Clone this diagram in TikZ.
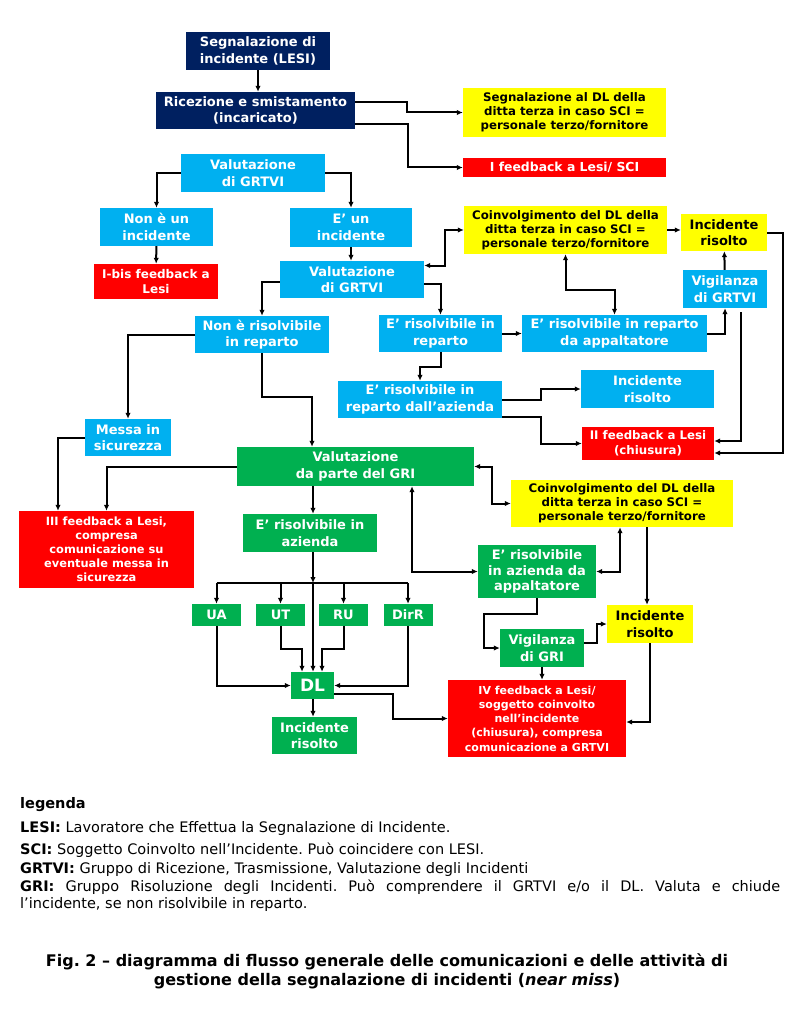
\documentclass[tikz,border=0pt]{standalone}
\usepackage{fontspec}
\setmainfont{DejaVu Sans}
\usepackage{tikz}
\usetikzlibrary{arrows.meta}
\definecolor{navyblue}{RGB}{0,32,96}
\definecolor{skyblue}{RGB}{0,176,240}
\definecolor{leafgreen}{RGB}{0,176,80}
\definecolor{alertred}{RGB}{255,0,0}
\definecolor{notice}{RGB}{255,255,0}
\newcommand{\blockfont}{\bfseries\fontsize{13}{16.5}\selectfont}
\newcommand{\smallblockfont}{\bfseries\fontsize{11.8}{14.2}\selectfont}
\newcommand{\legendfont}{\fontsize{14.5}{17}\selectfont}
\frenchspacing
\tikzset{
  block/.style={rectangle, inner sep=0pt, align=center, font=\blockfont, text=white},
  dims/.style 2 args={minimum width=#1pt, minimum height=#2pt},
  navyblock/.style={block, fill=navyblue},
  cyanblock/.style={block, fill=skyblue},
  greenblock/.style={block, fill=leafgreen},
  redblock/.style={block, fill=alertred, font=\smallblockfont},
  yellowblock/.style={block, fill=notice, text=black},
  arrow/.style={-{Latex[length=6pt,width=5.5pt]}, line width=2pt},
  dblarrow/.style={{Latex[length=6pt,width=5.5pt]}-{Latex[length=6pt,width=5.5pt]}, line width=2pt},
  legend/.style={anchor=west, inner sep=0pt, font=\legendfont},
}

\begin{document}
\begin{tikzpicture}[x=1pt, y=-1pt]
  \useasboundingbox[fill=white] (0,0) rectangle (800,1011);

  \node[navyblock, dims={144}{38}] (segn) at (258,51) {Segnalazione di\\incidente (LESI)};
  \node[navyblock, dims={199}{37}] (ricez) at (255.5,110.5) {Ricezione e smistamento\\(incaricato)};
  \node[yellowblock, font=\smallblockfont, dims={203}{49}] (segnDL) at (564.5,112.5) {Segnalazione al DL della\\ditta terza in caso SCI =\\personale terzo/fornitore};
  \node[redblock, font={\bfseries\fontsize{12.4}{14}\selectfont}, dims={203}{19}] (feedI) at (564.5,167.5) {I feedback a Lesi/ SCI};
  \node[cyanblock, dims={144}{38}] (valA) at (253,173) {Valutazione\\di GRTVI};
  \node[cyanblock, dims={113}{38}] (nonInc) at (156.5,227) {Non è un\\incidente};
  \node[cyanblock, dims={122}{39}] (eInc) at (351,227.5) {E’ un\\incidente};
  \node[redblock, font={\bfseries\fontsize{12}{15}\selectfont}, dims={124}{35}] (feedIbis) at (156,281.5) {I-bis feedback a\\Lesi};
  \node[cyanblock, dims={144}{37}] (valB) at (352,279.5) {Valutazione\\di GRTVI};
  \node[yellowblock, font=\smallblockfont, dims={203}{48}] (coinvA) at (565.5,230) {Coinvolgimento del DL della\\ditta terza in caso SCI =\\personale terzo/fornitore};
  \node[yellowblock, dims={86}{37}] (risA) at (724,232.5) {Incidente\\risolto};
  \node[cyanblock, dims={84}{38}] (vigA) at (725,289) {Vigilanza\\di GRTVI};

  \node[cyanblock, dims={134}{37}] (nonRis) at (262,334.5) {Non è risolvibile\\in reparto};
  \node[cyanblock, dims={123}{37}] (risRep) at (440.5,333.5) {E’ risolvibile in\\reparto};
  \node[cyanblock, dims={185}{37}] (risApp) at (614.5,333.5) {E’ risolvibile in reparto\\da appaltatore};
  \node[cyanblock, dims={164}{37}] (risAz) at (420,399.5) {E’ risolvibile in\\reparto dall’azienda};
  \node[cyanblock, dims={133}{38}] (risB) at (647.5,389) {Incidente\\risolto};
  \node[redblock, font={\bfseries\fontsize{11.8}{15}\selectfont}, dims={132}{33}] (feedII) at (648,443.5) {II feedback a Lesi\\(chiusura)};
  \node[cyanblock, dims={86}{37}] (messa) at (128,437.5) {Messa in\\sicurezza};

  \node[greenblock, dims={237}{39}] (valGRI) at (355.5,466.5) {Valutazione\\da parte del GRI};
  \node[redblock, font={\bfseries\fontsize{11.4}{14}\selectfont}, dims={175}{77}] (feedIII) at (106.5,549.5) {III feedback a Lesi,\\compresa\\comunicazione su\\eventuale messa in\\sicurezza};
  \node[greenblock, dims={134}{38}] (azienda) at (310,533) {E’ risolvibile in\\azienda};
  \node[yellowblock, font=\smallblockfont, dims={222}{47}] (coinvB) at (622,503.5) {Coinvolgimento del DL della\\ditta terza in caso SCI =\\personale terzo/fornitore};
  \node[greenblock, font={\bfseries\fontsize{13}{15.5}\selectfont}, dims={118}{53}] (aziApp) at (537,571.5) {E’ risolvibile\\in azienda da\\appaltatore};
  \foreach \name/\x in {UA/216.5, UT/280.5, RU/343.5, DirR/408}
    \node[greenblock, dims={49}{22}] (\name) at (\x,615) {\name};
  \node[greenblock, font={\bfseries\fontsize{17}{19}\selectfont}, dims={43}{27}] (DL) at (312.5,685.5) {DL};
  \node[greenblock, dims={85}{37}] (risC) at (314.5,735.5) {Incidente\\risolto};
  \node[yellowblock, dims={86}{38}] (risD) at (650,624) {Incidente\\risolto};
  \node[greenblock, dims={84}{38}] (vigGRI) at (542,648) {Vigilanza\\di GRI};
  \node[redblock, font={\bfseries\fontsize{11}{14.2}\selectfont}, dims={178}{77}] (feedIV) at (537,718.5) {IV feedback a Lesi/\\soggetto coinvolto\\nell’incidente\\(chiusura), compresa\\comunicazione a GRTVI};
  \coordinate (bus) at (313,583);

  \draw[arrow] (segn.south) -- (segn.south |- ricez.north);
  \draw[arrow] ([yshift=8.5pt]ricez.east) -- ++(52,0) |- (segnDL.west);
  \draw[arrow] ([yshift=-13.5pt]ricez.east) -- ++(53,0) |- (feedI.west);
  \draw[arrow] (valA.west) -| (nonInc.north);
  \draw[arrow] (valA.east) -| (eInc.north);
  \draw[arrow] (nonInc) -- (feedIbis);
  \draw[arrow] (eInc) -- (eInc |- valB.north);
  \draw[dblarrow] ([yshift=14pt]valB.east) -- ++(21,0) |- (coinvA.west);
  \draw[arrow] ([yshift=-4.5pt]valB.east) -| (risRep.north);
  \draw[arrow] ([yshift=-2.5pt]valB.west) -| (nonRis.north);
  \draw[arrow] (coinvA.east) -- (coinvA.east -| risA.west);
  \draw[arrow] (vigA) -- (risA);
  \draw[arrow] (risA.east) -- ++(16,0) |- ([yshift=-9.5pt]feedII.east);
  \draw[arrow] ([xshift=16pt,yshift=-4pt]vigA.south) |- ([yshift=2.5pt]feedII.east);

  \draw[arrow] (risRep) -- (risApp);
  \draw[dblarrow] (coinvA.south) -- ++(0,36) -| (risApp.north);
  \draw[arrow] (risApp.east) -| (vigA.south);
  \draw[arrow] (risRep.south) -- ++(0,15) -| (risAz.north);
  \draw[arrow] (risAz.east) -- ++(39,0) |- (risB.west);
  \draw[arrow] ([yshift=-17.5pt]risAz.east) -- ++(39,0) |- (feedII.west);
  \draw[arrow] (nonRis.west) -| (messa.north);
  \draw[arrow] (nonRis.south) -- ++(0,44) -| ([xshift=-43.5pt]valGRI.north);
  \draw[arrow] (messa.west) -| ([xshift=-48.5pt]feedIII.north);
  \draw[arrow] (valGRI.west) -| (feedIII.north);

  \draw[arrow] (valGRI.south -| bus) -- (azienda.north -| bus);
  \draw[arrow] (azienda.south -| bus) -- (bus);
  \draw[line width=2pt] (UA.north |- bus) -- (DirR.north |- bus);
  \foreach \name in {UA, UT, RU, DirR}
    \draw[arrow] (\name.north |- bus) -- (\name.north);
  \draw[arrow] (bus) -- (bus |- DL.north);
  \draw[arrow] (UA.south) |- (DL.west);
  \draw[arrow] (UT.south) -- ++(0,23) -| ([xshift=-10.5pt]DL.north);
  \draw[arrow] (RU.south) -- ++(0,23) -| ([xshift=9.5pt]DL.north);
  \draw[arrow] (DirR.south) |- (DL.east);
  \draw[arrow] (DL.south -| bus) -- (risC.north -| bus);
  \draw[arrow] ([yshift=-8.5pt]DL.east) -- ++(59,0) |- (feedIV.west);

  \draw[dblarrow] (valGRI.east) -- ++(18,0) |- (coinvB.west);
  \draw[dblarrow] ([xshift=56.5pt]valGRI.south) |- (aziApp.west);
  \draw[dblarrow] ([xshift=-2pt]coinvB.south) |- (aziApp.east);
  \draw[arrow] ([xshift=25pt]coinvB.south) -- ([xshift=25pt]coinvB.south |- risD.north);
  \draw[arrow] (aziApp.south) -- ++(0,16) -- ++(-53,0) |- (vigGRI.west);
  \draw[arrow] ([yshift=5pt]vigGRI.east) -- ++(13,0) |- (risD.west);
  \draw[arrow] (vigGRI.south) -- (vigGRI.south |- feedIV.north);
  \draw[arrow] (risD.south) |- ([yshift=-3.5pt]feedIV.east);

  \node[legend] (legTitle) at (20,805) {\textbf{legenda}};
  \node[legend] (legLESI) at (20,828) {\textbf{LESI:} Lavoratore che Effettua la Segnalazione di Incidente.};
  \node[legend] (legSCI) at (20,850) {\textbf{SCI:} Soggetto Coinvolto nell’Incidente. Può coincidere con LESI.};
  \node[legend] (legGRTVI) at (20,869) {\textbf{GRTVI:} Gruppo di Ricezione, Trasmissione, Valutazione degli Incidenti};
  \node[legend, text width=760pt, align=justify] (legGRI) at (20,896) {\textbf{GRI:} Gruppo Risoluzione degli Incidenti. Può comprendere il GRTVI e/o il DL. Valuta e chiude\linebreak l’incidente, se non risolvibile in reparto.};

  \node[inner sep=0pt, align=center, font={\bfseries\fontsize{16}{19}\selectfont}] (caption) at (387,971) {Fig. 2 – diagramma di flusso generale delle comunicazioni e delle attività di\\gestione della segnalazione di incidenti (\textit{near miss})};
\end{tikzpicture}
\end{document}
